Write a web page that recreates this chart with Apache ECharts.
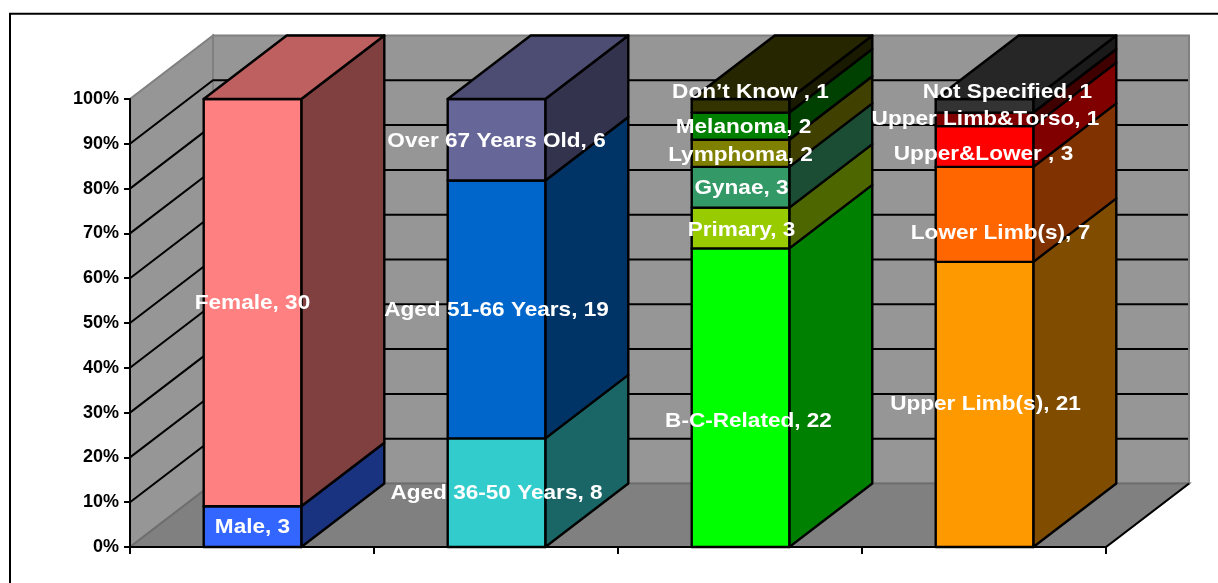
<!DOCTYPE html>
<html>
<head>
<meta charset="utf-8">
<style>html,body{margin:0;padding:0;background:#fff;overflow:hidden}#chart{width:1218px;height:583px}</style>
<script src="https://cdn.jsdelivr.net/npm/echarts@6/dist/echarts.min.js"></script>
</head>
<body>
<div id="chart"></div>
<script>
// Counts per group, stacked bottom to top inside each column.
const categories = ['Gender', 'Age', 'Diagnosis', 'Site'];
const genderNames = ['Male', 'Female'];
const genderValues = [3, 30];
const ageNames = ['Aged 36-50 Years', 'Aged 51-66 Years', 'Over 67 Years Old'];
const ageValues = [8, 19, 6];
const diagnosisNames = ['B-C-Related', 'Primary', 'Gynae', 'Lymphoma', 'Melanoma', 'Don\u2019t Know '];
const diagnosisValues = [22, 3, 3, 2, 2, 1];
const siteNames = ['Upper Limb(s)', 'Lower Limb(s)', 'Upper&Lower ', 'Upper Limb&Torso', 'Not Specified'];
const siteValues = [21, 7, 3, 1, 1];
const percentTicks = [0, 10, 20, 30, 40, 50, 60, 70, 80, 90, 100];

// Front-face colours, one list per column.
const genderColors = ['#3366FF', '#FF8080'];
const ageColors = ['#33CCCC', '#0066CC', '#666699'];
const diagnosisColors = ['#00FF00', '#99CC00', '#339966', '#808000', '#008000', '#333300'];
const siteColors = ['#FF9900', '#FF6600', '#FF0000', '#800000', '#333333'];

// Hand-placed label nudges in pixels, [dx, dy] from the middle of the segment.
const genderNudge = [[0, 0], [0, 0]];
const ageNudge = [[0, 0], [0, 0], [0, 0]];
const diagnosisNudge = [[8, 23], [1, 1], [1, 0], [0, 1], [3, 0], [10, -15]];
const siteNudge = [[1, -1], [16, 18], [-1, 6.5], [1, -1], [23, -15]];

const columns = [
  [genderNames, genderValues, genderColors, genderNudge],
  [ageNames, ageValues, ageColors, ageNudge],
  [diagnosisNames, diagnosisValues, diagnosisColors, diagnosisNudge],
  [siteNames, siteValues, siteColors, siteNudge]
];

const DEPTH_X = 83, DEPTH_Y = 63.5;
const BAR_FRACTION = 0.4;
const LABEL_STRETCH = 1.075;

function shade(hex, k) {
  const n = parseInt(hex.slice(1), 16);
  const c = [(n >> 16) & 255, (n >> 8) & 255, n & 255].map(v => Math.round(v * k));
  return 'rgb(' + c.join(',') + ')';
}

// Turn the counts into stacked percentage spans.
const segments = [];
columns.forEach(([names, values, colors, nudges], col) => {
  const total = values.reduce((a, b) => a + b, 0);
  let run = 0;
  values.forEach((v, i) => {
    const from = run / total * 100;
    run += v;
    segments.push({
      value: [col, from, run / total * 100, i === values.length - 1 ? 1 : 0, nudges[i][0], nudges[i][1]],
      color: colors[i],
      text: names[i] + ', ' + v
    });
  });
});

function renderWalls(params, api) {
  const cs = params.coordSys;
  const l = cs.x, r = cs.x + cs.width;
  const y0 = api.coord([0, 0])[1], y1 = api.coord([0, 100])[1];
  const poly = (points, fill, stroke, w) => ({
    type: 'polygon',
    shape: { points },
    style: { fill, stroke: stroke || 'none', lineWidth: w || 0 }
  });
  const children = [
    poly([[l, y0], [l + DEPTH_X, y0 - DEPTH_Y], [l + DEPTH_X, y1 - DEPTH_Y], [l, y1]], '#969696', '#808080', 2),
    poly([[l + DEPTH_X, y0 - DEPTH_Y], [r + DEPTH_X, y0 - DEPTH_Y], [r + DEPTH_X, y1 - DEPTH_Y], [l + DEPTH_X, y1 - DEPTH_Y]], '#969696', '#808080', 2),
    poly([[l, y0], [r, y0], [r + DEPTH_X, y0 - DEPTH_Y], [l + DEPTH_X, y0 - DEPTH_Y]], '#808080', '#6e6e6e', 2),
    { type: 'line', shape: { x1: r, y1: y0, x2: r + DEPTH_X, y2: y0 - DEPTH_Y }, style: { stroke: '#000', lineWidth: 2 } }
  ];
  percentTicks.slice(1, -1).forEach(t => {
    const y = api.coord([0, t])[1];
    children.push({
      type: 'polyline',
      shape: { points: [[l, y], [l + DEPTH_X, y - DEPTH_Y], [r + DEPTH_X - 1, y - DEPTH_Y]] },
      style: { fill: 'none', stroke: '#000', lineWidth: 2 }
    });
  });
  return { type: 'group', children };
}

function renderSegment(params, api) {
  const seg = segments[params.dataIndex];
  const center = api.coord([api.value(0), 0])[0] + 0.5;
  const half = api.size([1, 0])[0] * BAR_FRACTION / 2;
  const yA = api.coord([0, api.value(1)])[1];
  const yB = api.coord([0, api.value(2)])[1];
  const xL = center - half, xR = center + half;
  const style = fill => ({ fill, stroke: '#000', lineWidth: 2.4, lineJoin: 'round' });
  const children = [
    { type: 'polygon', shape: { points: [[xR, yA], [xR + DEPTH_X, yA - DEPTH_Y], [xR + DEPTH_X, yB - DEPTH_Y], [xR, yB]] }, style: style(shade(seg.color, 0.5)) },
    { type: 'polygon', shape: { points: [[xL, yA], [xR, yA], [xR, yB], [xL, yB]] }, style: style(seg.color) }
  ];
  if (api.value(3)) {
    children.push({
      type: 'polygon',
      shape: { points: [[xL, yB], [xR, yB], [xR + DEPTH_X, yB - DEPTH_Y], [xL + DEPTH_X, yB - DEPTH_Y]] },
      style: style(shade(seg.color, 0.75))
    });
  }
  return { type: 'group', children };
}

function renderLabel(params, api) {
  const seg = segments[params.dataIndex];
  const center = api.coord([api.value(0), 0])[0] + 0.5;
  const y = api.coord([0, (api.value(1) + api.value(2)) / 2])[1];
  return {
    type: 'text',
    x: center + api.value(4),
    y: y + api.value(5) + 1,
    scaleX: LABEL_STRETCH,
    style: {
      x: 0,
      y: 0,
      text: seg.text,
      fill: '#fff',
      font: 'bold 21px "Liberation Sans", Arial, sans-serif',
      align: 'center',
      verticalAlign: 'middle'
    }
  };
}

const chart = echarts.init(document.getElementById('chart'), null, { renderer: 'canvas' });
chart.setOption({
  animation: false,
  backgroundColor: '#fff',
  graphic: [{
    type: 'rect',
    shape: { x: 10, y: 13.7, width: 1400, height: 800 },
    style: { fill: 'none', stroke: '#000', lineWidth: 2 },
    silent: true,
    z: -1
  }],
  grid: { left: 130, right: 112, top: 99, bottom: 36, containLabel: false },
  xAxis: {
    type: 'category',
    data: categories,
    z: 5,
    axisLine: { show: true, lineStyle: { color: '#000', width: 2 } },
    axisTick: { show: true, length: 7, lineStyle: { color: '#000', width: 2 } },
    axisLabel: { show: false },
    splitLine: { show: false }
  },
  yAxis: {
    type: 'value',
    min: 0,
    max: 100,
    interval: 10,
    z: 5,
    axisLine: { show: true, lineStyle: { color: '#000', width: 2 } },
    axisTick: { show: true, length: 6, lineStyle: { color: '#000', width: 2 } },
    axisLabel: {
      formatter: '{value}%',
      color: '#000',
      margin: 11,
      fontFamily: '"Liberation Sans", Arial, sans-serif',
      fontWeight: 'bold',
      fontSize: 18
    },
    splitLine: { show: false }
  },
  series: [
    { type: 'custom', name: 'walls', z: 1, silent: true, renderItem: renderWalls, data: [[0, 0]], encode: { x: 0, y: 1 } },
    { type: 'custom', name: 'segments', z: 2, silent: true, renderItem: renderSegment, data: segments.map(s => s.value), encode: { x: 0, y: 2 } },
    { type: 'custom', name: 'labels', z: 8, silent: true, renderItem: renderLabel, data: segments.map(s => s.value), encode: { x: 0, y: 2 } }
  ]
});
</script>
</body>
</html>
